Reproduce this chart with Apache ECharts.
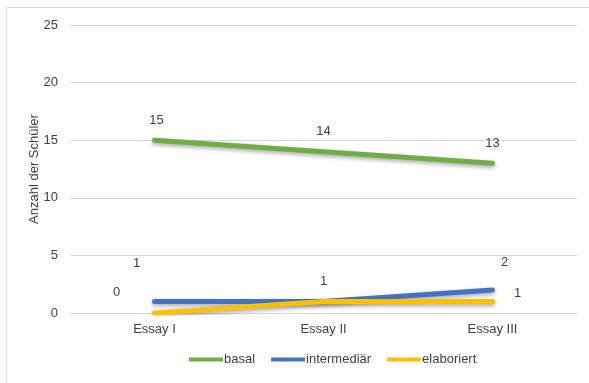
<!DOCTYPE html>
<html>
<head>
<meta charset="utf-8">
<script src="https://cdn.jsdelivr.net/npm/echarts@6/dist/echarts.min.js"></script>
<style>
html, body { margin: 0; padding: 0; background: #fff; }
#main { width: 589px; height: 383px; }
</style>
</head>
<body>
<div id="main"></div>
<script>
// Daten
var categories = ['Essay I', 'Essay II', 'Essay III'];
var basal = [15, 14, 13];
var intermediaer = [1, 1, 2];
var elaboriert = [0, 1, 1];
var yTicks = [0, 5, 10, 15, 20, 25];

// Label-Versatz je Punkt (nur Stil)
var offBasal = [[2, -20], [0, -20], [0, -20]];
var offInter = [[-18, -38], [0, -20], [12, -28]];
var offElab = [[-38, -21], null, [25, -8]];

function points(values, offsets) {
	return values.map(function(v, i) {
		var o = offsets[i];
		return {
			value: v,
			label: o ? { show: true, offset: o } : { show: false }
		};
	});
}

var font = 'Liberation Sans, Arial, sans-serif';
var txt = '#404040';

function lineSeries(name, color, data) {
	return {
		name: name,
		type: 'line',
		data: data,
		symbol: 'circle',
		symbolSize: 1,
		itemStyle: { color: color },
		lineStyle: {
			width: 5,
			color: color,
			cap: 'round',
			shadowColor: 'rgba(0,0,0,0.35)',
			shadowBlur: 4,
			shadowOffsetY: 2
		},
		label: {
			position: 'inside',
			color: txt,
			fontFamily: font,
			fontSize: 13
		},
		animation: false
	};
}

var myChart = echarts.init(document.getElementById('main'));
var option = {
	backgroundColor: '#fff',
	graphic: [{
		type: 'polyline',
		shape: { points: [[6.5, 383], [6.5, 7.5], [589, 7.5]] },
		style: { stroke: '#d9d9d9', fill: null, lineWidth: 1 }
	}],
	grid: { left: 70, right: 12, top: 25, bottom: 70 },
	legend: {
		bottom: 12,
		left: 184,
		itemWidth: 34,
		itemHeight: 4,
		itemGap: 16,
		icon: 'rect',
		textStyle: { color: txt, fontFamily: font, fontSize: 13, padding: [0, 0, 0, -4] },
		data: ['basal', 'intermediär', 'elaboriert']
	},
	xAxis: {
		type: 'category',
		data: categories,
		boundaryGap: true,
		axisLine: { lineStyle: { color: '#d9d9d9' } },
		axisTick: { show: false },
		axisLabel: { color: txt, fontFamily: font, fontSize: 13, margin: 10 }
	},
	yAxis: {
		type: 'value',
		min: yTicks[0],
		max: yTicks[yTicks.length - 1],
		interval: 5,
		name: 'Anzahl der Schüler',
		nameLocation: 'middle',
		nameGap: 29,
		nameMoveOverlap: false,
		nameTextStyle: { color: txt, fontFamily: font, fontSize: 13 },
		axisLine: { show: false },
		axisTick: { show: false },
		axisLabel: { color: txt, fontFamily: font, fontSize: 13, margin: 12 },
		splitLine: { lineStyle: { color: '#d9d9d9' } }
	},
	series: [
		lineSeries('basal', '#70AD47', points(basal, offBasal)),
		lineSeries('intermediär', '#4472C4', points(intermediaer, offInter)),
		lineSeries('elaboriert', '#FFC000', points(elaboriert, offElab))
	]
};
myChart.setOption(option);
</script>
</body>
</html>
